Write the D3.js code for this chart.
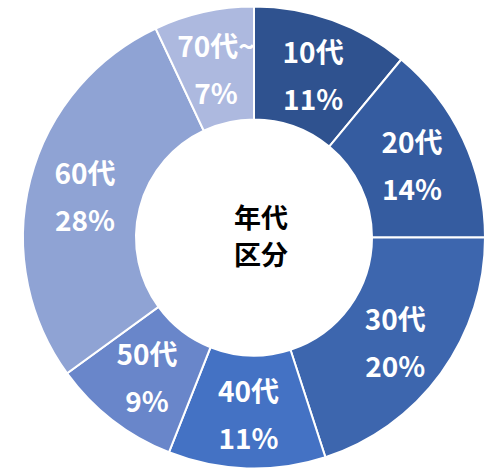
<!DOCTYPE html>
<html>
<head>
<meta charset="utf-8">
<script src="https://cdn.jsdelivr.net/npm/d3@7"></script>
<style>
  body { margin: 0; background: #fff; }
  text { font-family: "Noto Sans CJK JP", "Noto Sans", sans-serif; font-weight: bold; }
</style>
</head>
<body>
<div id="chart"></div>
<script>
const width = 487;
const height = 468;

// age groups and their share (%)
const groups = ["10代", "20代", "30代", "40代", "50代", "60代", "70代~"];
const shares = [11, 14, 20, 11, 9, 28, 7];
const colors = ["#2f528f", "#355ca0", "#3d66ae", "#4472c4", "#6986ca", "#8fa3d4", "#adb9df"];
const centerLines = ["年代", "区分"];

const cx = 254, cy = 237.5;
const outerR = 231, innerR = 118;

const data = groups.map((g, i) => ({ group: g, share: shares[i], color: colors[i] }));

const svg = d3.select("#chart").append("svg")
  .attr("width", width)
  .attr("height", height);

const g = svg.append("g")
  .attr("transform", `translate(${cx},${cy})`);

const pie = d3.pie()
  .value(d => d.share)
  .sort(null);

const arc = d3.arc()
  .innerRadius(innerR)
  .outerRadius(outerR);

const arcs = pie(data);

g.selectAll("path")
  .data(arcs)
  .join("path")
  .attr("d", arc)
  .attr("fill", d => d.data.color)
  .attr("stroke", "#fff")
  .attr("stroke-width", 2);

// two-line labels at each slice centroid
const labels = g.selectAll("g.label")
  .data(arcs)
  .join("g")
  .attr("class", "label")
  .attr("transform", d => `translate(${arc.centroid(d)})`);

labels.append("text")
  .attr("text-anchor", "middle")
  .attr("y", -10)
  .attr("fill", "#fff")
  .style("font-size", "28px")
  .text(d => d.data.group);

labels.append("text")
  .attr("text-anchor", "middle")
  .attr("y", 37)
  .attr("fill", "#fff")
  .style("font-size", "28px")
  .text(d => d.data.share + "%");

// center title
g.selectAll("text.center")
  .data(centerLines)
  .join("text")
  .attr("class", "center")
  .attr("text-anchor", "middle")
  .attr("x", 7)
  .attr("y", (d, i) => -10 + i * 37)
  .attr("fill", "#000")
  .style("font-size", "27px")
  .text(d => d);
</script>
</body>
</html>
